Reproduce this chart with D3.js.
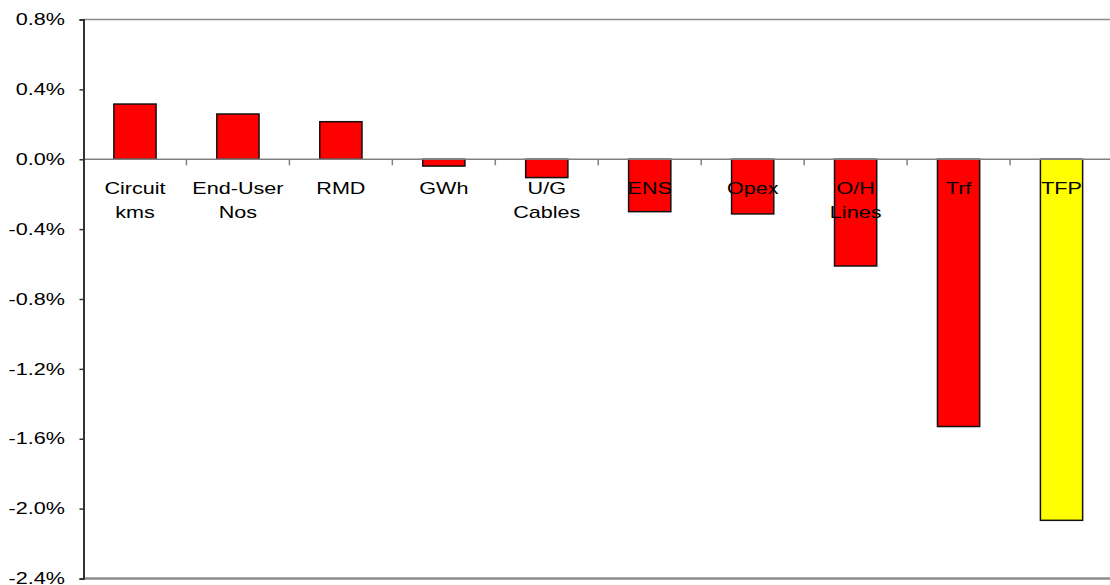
<!DOCTYPE html>
<html>
<head>
<meta charset="utf-8">
<script src="https://cdn.jsdelivr.net/npm/d3@7/dist/d3.min.js"></script>
<style>
  html, body { margin: 0; padding: 0; background: #fff; }
  svg { display: block; font-family: "Liberation Sans", Arial, sans-serif; }
</style>
</head>
<body>
<svg id="chart" width="1110" height="585"></svg>
<script>
// Annual growth rates of the productivity components (%)
const categories = [["Circuit", "kms"], ["End-User", "Nos"], ["RMD"], ["GWh"], ["U/G", "Cables"],
                    ["ENS"], ["Opex"], ["O/H", "Lines"], ["Trf"], ["TFP"]];
const values = [0.316, 0.259, 0.215, -0.039, -0.105, -0.30, -0.313, -0.611, -1.53, -2.067];
const barColors = ["#ff0000", "#ff0000", "#ff0000", "#ff0000", "#ff0000",
                   "#ff0000", "#ff0000", "#ff0000", "#ff0000", "#ffff00"];
const yTicks = [0.8, 0.4, 0.0, -0.4, -0.8, -1.2, -1.6, -2.0, -2.4];

(function () {
  const svg = d3.select("#chart");
  const plotLeft = 83.5, plotRight = 1113, plotTop = 19.5, plotBottom = 578.5;
  const stretch = 1.35; // text is drawn horizontally widened
  const fmt = d3.formatLocale({ decimal: ".", thousands: ",", grouping: [3],
                                currency: ["", ""], minus: "-" }).format(".1f");

  const x = d3.scaleBand()
    .domain(d3.range(categories.length))
    .range([plotLeft, plotRight])
    .paddingInner(0.59)
    .paddingOuter(0.295);

  const y = d3.scaleLinear().domain([-2.4, 0.8]).range([plotBottom, plotTop]);

  // plot frame: top and bottom borders
  svg.append("line").attr("x1", plotLeft).attr("x2", 1110).attr("y1", plotTop).attr("y2", plotTop)
    .attr("stroke", "#8c8c8c").attr("stroke-width", 1.5);
  svg.append("line").attr("x1", plotLeft).attr("x2", 1110).attr("y1", plotBottom).attr("y2", plotBottom)
    .attr("stroke", "#8c8c8c").attr("stroke-width", 2.5);

  // bars
  svg.append("g").selectAll("rect").data(values).join("rect")
    .attr("x", (d, i) => x(i))
    .attr("width", x.bandwidth())
    .attr("y", d => y(Math.max(0, d)))
    .attr("height", d => Math.abs(y(d) - y(0)))
    .attr("fill", (d, i) => barColors[i])
    .attr("stroke", "#111")
    .attr("stroke-width", 1.5);

  // zero line with category tick marks
  const step = x.step();
  svg.append("line").attr("x1", plotLeft).attr("x2", 1110).attr("y1", y(0)).attr("y2", y(0))
    .attr("stroke", "#808080").attr("stroke-width", 1.5);
  svg.append("g").selectAll("line").data(d3.range(1, categories.length)).join("line")
    .attr("x1", i => plotLeft + i * step).attr("x2", i => plotLeft + i * step)
    .attr("y1", y(0)).attr("y2", y(0) + 6)
    .attr("stroke", "#808080").attr("stroke-width", 1.5);

  // y axis
  const yAxis = d3.axisLeft(y).tickValues(yTicks)
    .tickFormat(d => fmt(d) + "%")
    .tickSize(4).tickPadding(14);
  const gy = svg.append("g").attr("transform", `translate(${plotLeft},0)`).call(yAxis);
  gy.select(".domain").attr("stroke", "#333").attr("stroke-width", 2);
  gy.selectAll(".tick line").attr("stroke", "#333").attr("stroke-width", 1.5);
  gy.selectAll(".tick text")
    .attr("x", 0)
    .attr("transform", `translate(-18.5,0) scale(${stretch},1)`)
    .attr("fill", "#000").attr("font-size", 16)
    .attr("font-family", "Liberation Sans, Arial, sans-serif");

  // category labels below the zero line
  const labels = svg.append("g").selectAll("text").data(categories).join("text")
    .attr("transform", (d, i) =>
      `translate(${x(i) + x.bandwidth() / 2},${y(0) + 34.5}) scale(${stretch},1)`)
    .attr("text-anchor", "middle")
    .attr("font-size", 16)
    .attr("fill", "#000");
  labels.selectAll("tspan").data(d => d).join("tspan")
    .attr("x", 0)
    .attr("dy", (d, j) => j === 0 ? 0 : 24)
    .text(d => d);
})();
</script>
</body>
</html>
